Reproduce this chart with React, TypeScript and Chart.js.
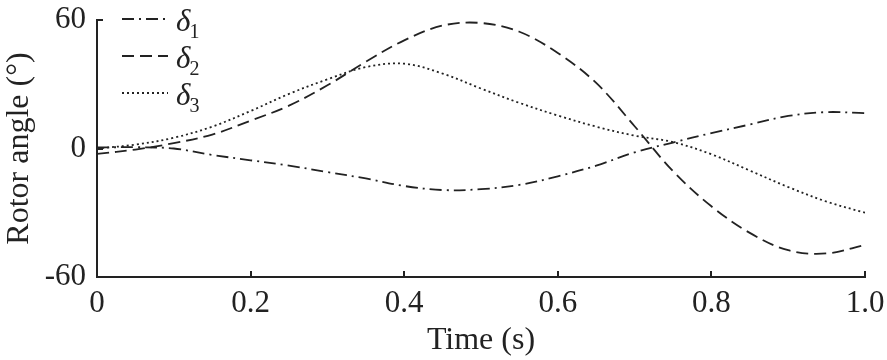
import React, { useEffect, useRef } from "react";
import { Chart, registerables } from "chart.js";

Chart.register(...registerables);

const timeValues = [0, 0.05, 0.1, 0.15, 0.2, 0.25, 0.3, 0.35, 0.4, 0.45, 0.5, 0.55, 0.6, 0.65, 0.7, 0.75, 0.8, 0.85, 0.9, 0.95, 1.0];
const delta1 = [0.5, 0.6, 0, -3, -5.5, -8, -11, -14, -17.5, -19.4, -19, -17, -13, -8, -1.8, 2.8, 7.2, 11.2, 15.2, 17, 16.5];
const delta2 = [-2.5, -0.5, 2.5, 6.5, 13, 20, 29.5, 40.5, 50.5, 57.4, 58.6, 54.5, 44.6, 30.6, 10.4, -10.6, -27, -39.4, -47.5, -49, -45];
const delta3 = [0, 1.8, 5, 10.2, 17.5, 25.5, 32.3, 38, 39.6, 35, 28, 21.3, 15.4, 10.2, 6, 3, -2.7, -10.3, -18, -24.8, -30];

const seriesLabels = ["δ1", "δ2", "δ3"];
const seriesDashes = [[12, 5, 2, 5], [12, 6], [2, 3]];
const xTickLabels = ["0", "0.2", "0.4", "0.6", "0.8", "1.0"];
const yTickLabels = ["-60", "0", "60"];
const xTitle = "Time (s)";
const yTitle = "Rotor angle (°)";

const INK = "#222222";
const FONT = "'Liberation Serif', 'Times New Roman', serif";

const innerTicksAndLegend = {
  id: "innerTicksAndLegend",
  afterDraw(chart: any) {
    const { ctx, chartArea, scales } = chart;
    const xs = scales.x;
    const ys = scales.y;
    ctx.save();
    ctx.strokeStyle = INK;
    ctx.lineWidth = 2;
    ctx.setLineDash([]);
    const len = 6;
    xs.ticks.forEach((t: any) => {
      const px = Math.round(xs.getPixelForValue(t.value));
      ctx.beginPath();
      ctx.moveTo(px, chartArea.bottom);
      ctx.lineTo(px, chartArea.bottom - len);
      ctx.stroke();
    });
    ys.ticks.forEach((t: any) => {
      const py = Math.round(ys.getPixelForValue(t.value));
      ctx.beginPath();
      ctx.moveTo(chartArea.left, py);
      ctx.lineTo(chartArea.left + len, py);
      ctx.stroke();
    });

    // legend
    chart.data.datasets.forEach((ds: any, i: number) => {
      const lineY = chartArea.top - 1 + i * 37;
      const x0 = chartArea.left + 25;
      const x1 = x0 + 46;
      ctx.strokeStyle = INK;
      ctx.lineWidth = 1.8;
      ctx.setLineDash(ds.borderDash || []);
      ctx.beginPath();
      ctx.moveTo(x0, lineY);
      ctx.lineTo(x1, lineY);
      ctx.stroke();
      ctx.setLineDash([]);
      const label: string = ds.label;
      const main = label.slice(0, -1);
      const sub = label.slice(-1);
      ctx.fillStyle = INK;
      ctx.textAlign = "left";
      ctx.textBaseline = "alphabetic";
      ctx.font = `italic 31px ${FONT}`;
      const tx = x1 + 8;
      ctx.fillText(main, tx, lineY + 12);
      const w = ctx.measureText(main).width;
      ctx.font = `20px ${FONT}`;
      ctx.fillText(sub, tx + w - 1, lineY + 19);
    });
    ctx.restore();
  },
};

export default function App() {
  const canvasRef = useRef<HTMLCanvasElement | null>(null);

  useEffect(() => {
    if (!canvasRef.current) return;
    const series = [delta1, delta2, delta3];
    const chart = new Chart(canvasRef.current, {
      type: "line",
      data: {
        datasets: series.map((vals, i) => ({
          label: seriesLabels[i],
          data: timeValues.map((t, j) => ({ x: t, y: vals[j] })),
          borderColor: INK,
          borderWidth: 1.8,
          borderDash: seriesDashes[i],
          pointRadius: 0,
          tension: 0.35,
          fill: false,
        })),
      },
      options: {
        responsive: false,
        animation: false,
        devicePixelRatio: 1,
        layout: { padding: { top: 20, right: 22, left: 0, bottom: 0 } },
        plugins: {
          legend: { display: false },
          tooltip: { enabled: false },
        },
        scales: {
          x: {
            type: "linear",
            min: 0,
            max: 1,
            afterFit: (s: any) => {
              s.height = 83;
              s.paddingLeft = 0;
              s.paddingRight = 0;
            },
            grid: { display: false, drawTicks: false },
            border: { display: true, color: INK, width: 2 },
            ticks: {
              stepSize: 0.2,
              maxRotation: 0,
              autoSkip: false,
              padding: 8,
              color: INK,
              font: { family: FONT, size: 31 },
              callback: (_v: any, i: number) => xTickLabels[i],
            },
            title: {
              display: true,
              text: xTitle,
              color: INK,
              font: { family: FONT, size: 32 },
              padding: 0,
            },
          },
          y: {
            min: -60,
            max: 60,
            afterFit: (s: any) => {
              s.width = 97;
              s.paddingTop = 0;
              s.paddingBottom = 0;
            },
            grid: { display: false, drawTicks: false },
            border: { display: true, color: INK, width: 2 },
            ticks: {
              stepSize: 60,
              padding: 11,
              color: INK,
              font: { family: FONT, size: 31, lineHeight: 0.3 },
              callback: (_v: any, i: number) => yTickLabels[i],
            },
            title: {
              display: true,
              text: yTitle,
              color: INK,
              font: { family: FONT, size: 32 },
              padding: 0,
            },
          },
        },
      },
      plugins: [innerTicksAndLegend],
    });
    return () => chart.destroy();
  }, []);

  return (
    <div style={{ position: "fixed", left: 0, top: 0, width: 887, height: 360, background: "#ffffff" }}>
      <canvas ref={canvasRef} width={887} height={360} style={{ display: "block", width: 887, height: 360 }} />
    </div>
  );
}
